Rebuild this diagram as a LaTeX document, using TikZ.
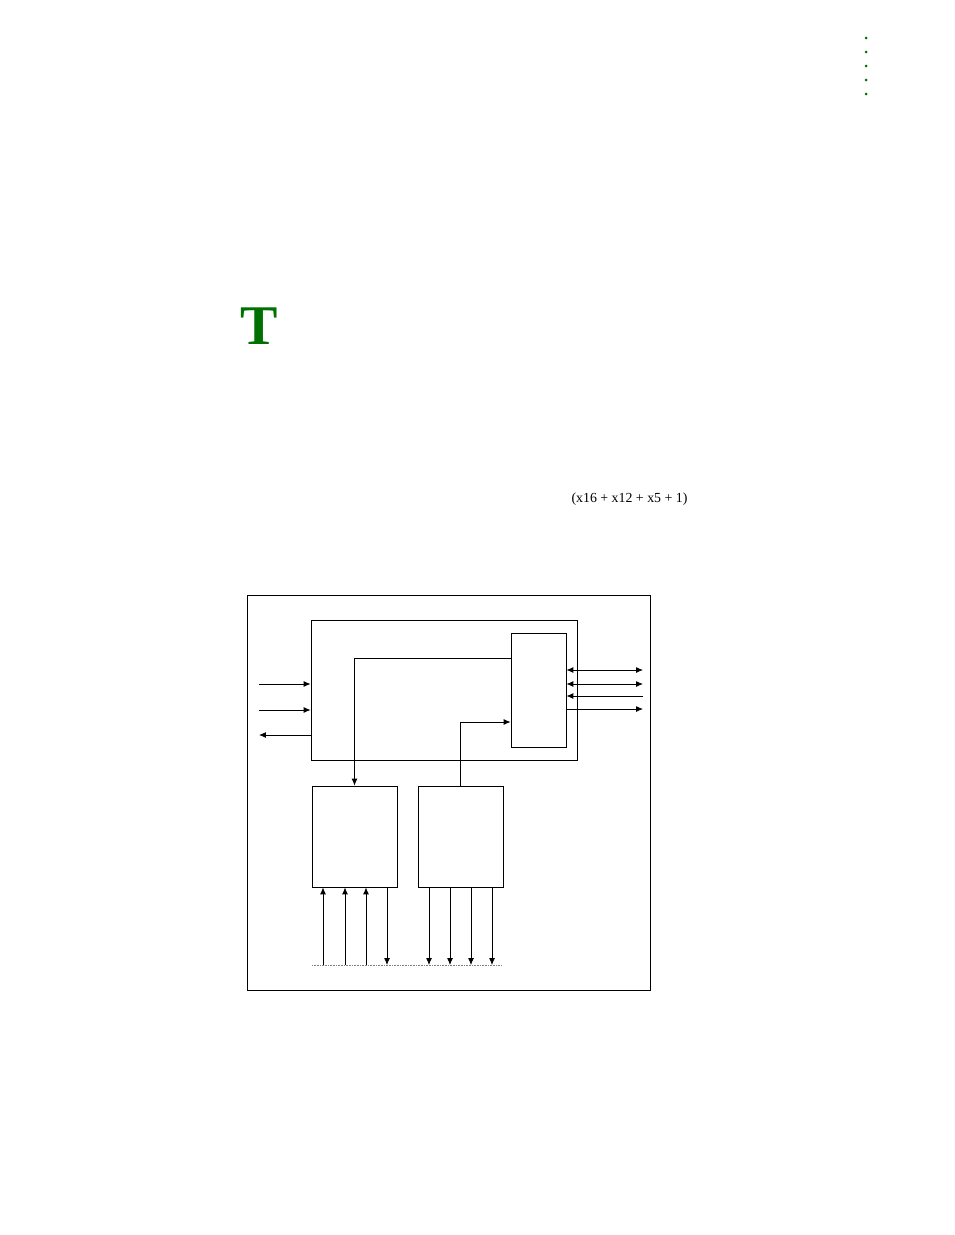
\documentclass[tikz,border=0pt]{standalone}
\usepackage{fontspec}
\setmainfont{Liberation Serif}
\usetikzlibrary{arrows.meta}
\definecolor{tgreen}{RGB}{0,112,0}
\tikzset{
  blk/.style={draw, rectangle, inner sep=0pt, line width=0.6pt},
  sig/.style={line width=0.6pt, -{Latex[length=5.2pt,width=4.4pt]}},
  bisig/.style={line width=0.6pt, {Latex[length=5.2pt,width=4.4pt]}-{Latex[length=5.2pt,width=4.4pt]}},
}
\begin{document}
\begin{tikzpicture}[x=0.75pt,y=-0.75pt]
      \useasboundingbox (0,0) rectangle (954,1235);

      % page marks
      \foreach \y in {38,52,66,80,94}
        \fill[tgreen] (866,\y) circle (1.5);
      \node[text=tgreen, font=\fontsize{42}{42}\selectfont\bfseries, inner sep=0pt] (initial) at (259,326) {T};
      \node[font=\fontsize{10.4}{12}\selectfont, inner sep=0pt] (poly) at (629.5,499) {(x16 + x12 + x5 + 1)};

      % blocks
      \begin{scope}[every node/.style={blk}]
        \node[minimum width=403*0.75pt, minimum height=395*0.75pt] (outer) at (448.5,792.5) {};
        \node[minimum width=266*0.75pt, minimum height=140*0.75pt] (main)  at (444,690)    {};
        \node[minimum width=55*0.75pt,  minimum height=114*0.75pt] (reg)   at (538.5,690)  {};
        \node[minimum width=85*0.75pt,  minimum height=101*0.75pt] (rx)    at (354.5,836.5) {};
        \node[minimum width=85*0.75pt,  minimum height=101*0.75pt] (tx)    at (460.5,836.5) {};
      \end{scope}

      % free ends
      \coordinate (l1) at (259,684);
      \coordinate (l2) at (259,710);
      \coordinate (l3) at (259,735);
      \coordinate (r1) at (643,670);
      \coordinate (r2) at (643,684);
      \coordinate (r3) at (643,696);
      \coordinate (r4) at (643,709);
      \coordinate (k1) at (0,658);
      \coordinate (k2) at (0,722);
      \coordinate (bus1) at (312,965);
      \coordinate (bus2) at (502,965);

      % left side
      \draw[sig] (l1) -- (l1 -| main.west);
      \draw[sig] (l2) -- (l2 -| main.west);
      \draw[sig] (l3 -| main.west) -- (l3);

      % right side
      \draw[bisig] (r1 -| reg.east) -- (r1);
      \draw[bisig] (r2 -| reg.east) -- (r2);
      \draw[sig] (r3) -- (r3 -| reg.east);
      \draw[sig] (r4 -| reg.east) -- (r4);

      % inner paths
      \draw[sig] (reg.west |- k1) -| (rx.north);
      \draw[sig] (tx.north) |- (reg.west |- k2);

      % bus
      \draw[gray, line width=0.7pt, dash pattern=on 0.6pt off 0.6pt] (bus1) -- (bus2);
      \foreach \x in {323,345,366}
        \draw[sig] (\x,965) -- (rx.south -| \x,0);
      \draw[sig] (rx.south -| 387,0) -- (387,965);
      \foreach \x in {429,450,471,492}
        \draw[sig] (tx.south -| \x,0) -- (\x,965);

    \end{tikzpicture}
\end{document}
